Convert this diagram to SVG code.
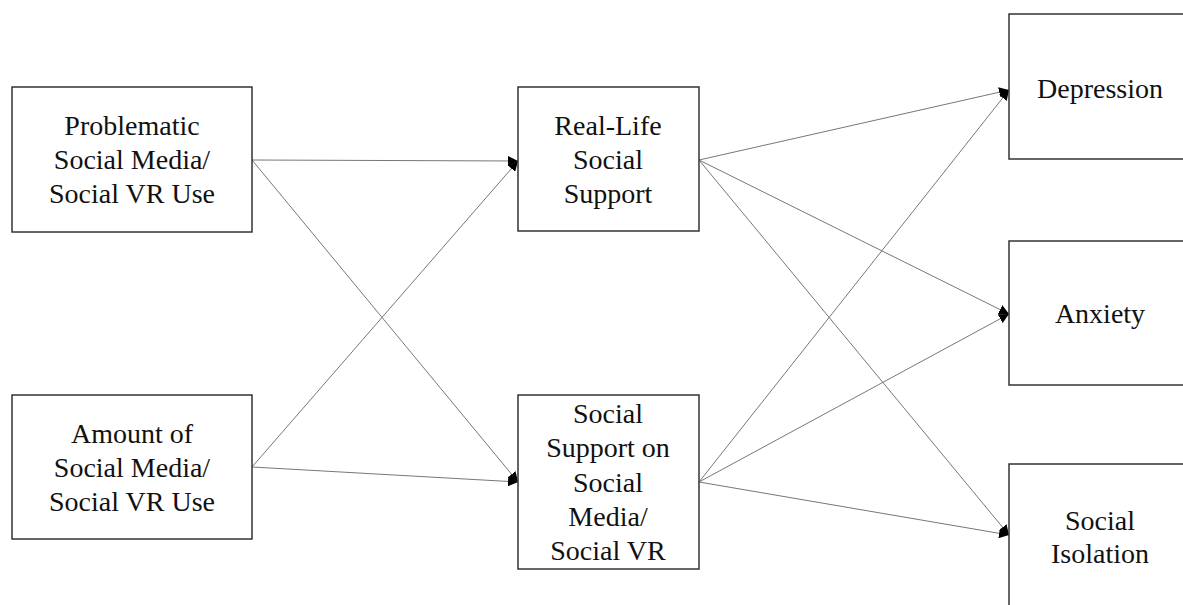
<svg xmlns="http://www.w3.org/2000/svg" width="1183" height="605" viewBox="0 0 1183 605">
<style>
.box{fill:#fff;stroke:#333;stroke-width:1.5}
.lbl{font-family:"Liberation Serif","Times New Roman",serif;font-size:28px;fill:#111;text-anchor:middle}
.edge{stroke:#777;stroke-width:1;fill:none;marker-end:url(#ah)}
</style>
<defs>
<marker id="ah" viewBox="0 0 10 10" refX="10" refY="5" markerWidth="10" markerHeight="10" markerUnits="userSpaceOnUse" orient="auto">
<path d="M0,0 L10,5 L0,10 Z" fill="#000"/>
</marker>
</defs>
<rect width="1183" height="605" fill="#fff"/>
<g id="connectors">
<line class="edge" x1="252" y1="160" x2="518" y2="161"/>
<line class="edge" x1="252" y1="160" x2="518" y2="482"/>
<line class="edge" x1="252" y1="467" x2="518" y2="161"/>
<line class="edge" x1="252" y1="467" x2="518" y2="482"/>
<line class="edge" x1="699" y1="160" x2="1009" y2="90"/>
<line class="edge" x1="699" y1="160" x2="1009" y2="314"/>
<line class="edge" x1="699" y1="160" x2="1009" y2="535"/>
<line class="edge" x1="699" y1="482" x2="1009" y2="90"/>
<line class="edge" x1="699" y1="482" x2="1009" y2="314"/>
<line class="edge" x1="699" y1="482" x2="1009" y2="535"/>
</g>
<g id="problematic">
<rect class="box" x="12" y="87" width="240" height="145"/>
<text class="lbl" x="132" y="135">Problematic</text>
<text class="lbl" x="132" y="169">Social Media/</text>
<text class="lbl" x="132" y="203">Social VR Use</text>
</g>
<g id="amount">
<rect class="box" x="12" y="395" width="240" height="144"/>
<text class="lbl" x="132" y="443">Amount of</text>
<text class="lbl" x="132" y="477">Social Media/</text>
<text class="lbl" x="132" y="511">Social VR Use</text>
</g>
<g id="reallife">
<rect class="box" x="518" y="87" width="181" height="144"/>
<text class="lbl" x="608" y="135">Real-Life</text>
<text class="lbl" x="608" y="169">Social</text>
<text class="lbl" x="608" y="203">Support</text>
</g>
<g id="online">
<rect class="box" x="518" y="395" width="181" height="174"/>
<text class="lbl" x="608" y="423">Social</text>
<text class="lbl" x="608" y="457">Support on</text>
<text class="lbl" x="608" y="492">Social</text>
<text class="lbl" x="608" y="526">Media/</text>
<text class="lbl" x="608" y="560">Social VR</text>
</g>
<g id="depression">
<rect class="box" x="1009" y="14" width="182" height="145"/>
<text class="lbl" x="1100" y="98">Depression</text>
</g>
<g id="anxiety">
<rect class="box" x="1009" y="241" width="182" height="144"/>
<text class="lbl" x="1100" y="323">Anxiety</text>
</g>
<g id="isolation">
<rect class="box" x="1009" y="464" width="182" height="160"/>
<text class="lbl" x="1100" y="530">Social</text>
<text class="lbl" x="1100" y="563">Isolation</text>
</g>
</svg>
